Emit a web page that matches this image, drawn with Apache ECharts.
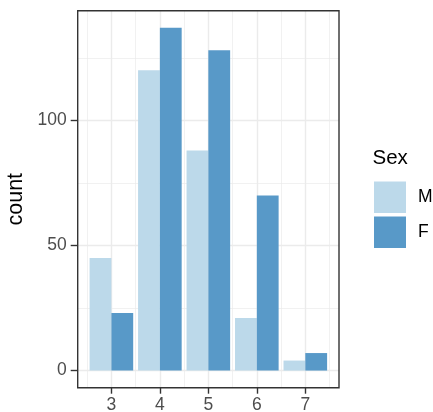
<!DOCTYPE html>
<html>
<head>
<meta charset="utf-8">
<script src="https://cdn.jsdelivr.net/npm/echarts@6/dist/echarts.min.js"></script>
<style>
html,body{margin:0;padding:0;background:#fff;}
#chart{width:433px;height:412px;}
</style>
</head>
<body>
<div id="chart"></div>
<script>
const categories = [3, 4, 5, 6, 7];
const seriesNames = ['M', 'F'];
const valuesM = [45, 120, 88, 21, 4];
const valuesF = [23, 137, 128, 70, 7];
const yTickLabels = [0, 50, 100];
const yMinorGrid = [25, 75, 125];
const xMinorGrid = [2.5, 3.5, 4.5, 5.5, 6.5, 7.5];

const FONT = '"Liberation Sans", Arial, Helvetica, sans-serif';
const colM = '#BCD9EA';
const colF = '#5899C8';
const gridCol = '#EBEBEB';

const chart = echarts.init(document.getElementById('chart'), null, {renderer: 'canvas'});

const gridLines = [];
yTickLabels.forEach(v => gridLines.push({yAxis: v, lineStyle: {width: 1.4}}));
yMinorGrid.forEach(v => gridLines.push({yAxis: v, lineStyle: {width: 0.7}}));
categories.forEach(v => gridLines.push({xAxis: v, lineStyle: {width: 1.4}}));
xMinorGrid.forEach(v => gridLines.push({xAxis: v, lineStyle: {width: 0.7}}));

chart.setOption({
  animation: false,
  textStyle: {fontFamily: FONT},
  title: {
    text: 'Sex', left: 372.5, top: 148, padding: 0,
    textStyle: {fontFamily: FONT, fontSize: 20.5, fontWeight: 'normal', color: '#000'}
  },
  legend: {
    data: seriesNames, orient: 'vertical', left: 374, top: 181.5, padding: 0,
    itemWidth: 32, itemHeight: 31.5, itemGap: 3.5, icon: 'rect',
    textStyle: {fontFamily: FONT, fontSize: 17.5, color: '#000', padding: [0, 0, 0, 7]},
    selectedMode: false
  },
  grid: {
    left: 77.7, right: 94, top: 10.7, bottom: 24.3, containLabel: false,
    outerBoundsMode: 'none',
    show: true, borderColor: '#333333', borderWidth: 1.4, backgroundColor: 'transparent', z: 10
  },
  xAxis: {
    type: 'value', min: 2.305, max: 7.695,
    axisLine: {show: false, onZero: false},
    splitLine: {show: false},
    axisTick: {show: true, customValues: categories, length: 6, lineStyle: {color: '#333333', width: 1.4}},
    axisLabel: {customValues: categories, color: '#4D4D4D', fontSize: 17.5, margin: 8, fontFamily: FONT}
  },
  yAxis: {
    type: 'value', min: -6.85, max: 143.85,
    name: 'count', nameLocation: 'middle', nameRotate: 90, nameGap: 44,
    nameTextStyle: {fontFamily: FONT, fontSize: 21.5, color: '#000'},
    axisLine: {show: false, onZero: false},
    splitLine: {show: false},
    axisTick: {show: true, customValues: yTickLabels, length: 7, lineStyle: {color: '#333333', width: 1.4}},
    axisLabel: {customValues: yTickLabels, color: '#4D4D4D', fontSize: 17.5, margin: 11, fontFamily: FONT}
  },
  series: [
    {
      name: 'grid', type: 'line', data: [], silent: true, z: 0,
      markLine: {
        silent: true, symbol: 'none', z: 0, animation: false,
        label: {show: false}, emphasis: {disabled: true},
        lineStyle: {color: gridCol, type: 'solid'},
        data: gridLines
      }
    },
    {
      name: 'M', type: 'bar', barWidth: 21.8, barGap: '0%', z: 2,
      itemStyle: {color: colM},
      data: categories.map((c, i) => [c, valuesM[i]])
    },
    {
      name: 'F', type: 'bar', barWidth: 21.8, barGap: '0%', z: 2,
      itemStyle: {color: colF},
      data: categories.map((c, i) => [c, valuesF[i]])
    }
  ]
});
</script>
</body>
</html>
